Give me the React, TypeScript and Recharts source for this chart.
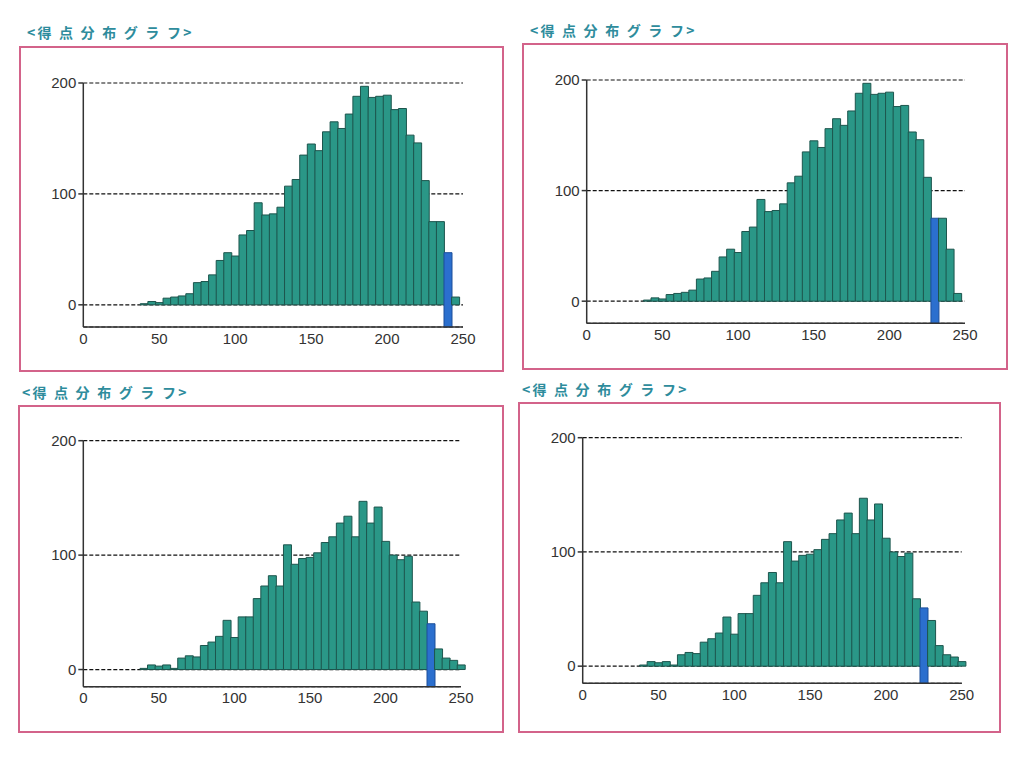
import { BarChart, Bar, XAxis, YAxis, CartesianGrid, Cell } from "recharts";

// score bins (bin centres, 5 points wide)
const binsTop = [
  40, 45, 50, 55, 60, 65, 70, 75, 80, 85, 90, 95, 100, 105, 110, 115, 120, 125, 130, 135, 140,
  145, 150, 155, 160, 165, 170, 175, 180, 185, 190, 195, 200, 205, 210, 215, 220, 225, 230, 235,
  240, 245,
];
const countsTop = [
  1, 3, 2, 6, 7, 8, 10, 20, 21, 27, 40, 47, 44, 63, 67, 92, 81, 82, 88, 107, 113, 135, 145, 139,
  156, 165, 159, 172, 188, 197, 187, 188, 189, 176, 177, 153, 146, 112, 75, 75, 47, 7,
];

const binsBottom = [
  40, 45, 50, 55, 60, 65, 70, 75, 80, 85, 90, 95, 100, 105, 110, 115, 120, 125, 130, 135, 140,
  145, 150, 155, 160, 165, 170, 175, 180, 185, 190, 195, 200, 205, 210, 215, 220, 225, 230, 235,
  240, 245, 250,
];
const countsBottom = [
  1, 4, 3, 4, 1, 10, 12, 11, 21, 24, 29, 43, 28, 46, 46, 62, 73, 82, 73, 109, 92, 97, 98, 102,
  111, 116, 128, 134, 116, 147, 128, 142, 112, 100, 96, 99, 59, 51, 40, 18, 10, 8, 4,
];

const xTicks = [0, 50, 100, 150, 200, 250];
const yTicks = [0, 100, 200];

const TITLE = "<得 点 分 布 グ ラ フ>";

const TEAL = "#2a9787";
const TEAL_EDGE = "#1d554d";
const BLUE = "#2b6fce";
const PINK = "#d3638a";

type Box = { l: number; t: number; r: number; b: number };

interface PanelProps {
  bins: number[];
  counts: number[];
  highlight: number;
  yMin: number;
  box: Box;
  plot: Box;
}

function Panel({ bins, counts, highlight, yMin, box, plot }: PanelProps) {
  const data = bins.map((score, i) => ({
    score,
    range: [score === highlight ? yMin : 0, counts[i]],
    hot: score === highlight,
  }));

  const w = box.r - box.l;
  const h = box.b - box.t;
  const yAxisW = 40;
  const xAxisH = 30;
  const margin = {
    top: plot.t - box.t,
    right: box.r - plot.r,
    left: plot.l - box.l - yAxisW,
    bottom: box.b - plot.b - xAxisH,
  };

  return (
    <>
      <div
        style={{
          position: "absolute",
          left: box.l - 1,
          top: box.t - 1,
          width: w + 2,
          height: h + 2,
          border: `2px solid ${PINK}`,
          boxSizing: "border-box",
        }}
      />
      <div style={{ position: "absolute", left: box.l, top: box.t }}>
        <BarChart width={w} height={h} data={data} margin={margin} barCategoryGap={0} barGap={0}>
          <CartesianGrid vertical={false} stroke="#111" strokeWidth={1.2} strokeDasharray="4 2" />
          <XAxis
            dataKey="score"
            type="number"
            domain={[0, 250]}
            ticks={xTicks}
            height={xAxisH}
            tickLine={false}
            tickSize={4}
            tickMargin={2}
            stroke="#333"
            strokeWidth={1.5}
            tick={{ fill: "#333", fontSize: 15, fontFamily: "Liberation Sans, Arial, sans-serif" }}
          />
          <YAxis
            type="number"
            domain={[yMin, 200]}
            ticks={yTicks}
            width={yAxisW}
            tickSize={5}
            tickMargin={2}
            stroke="#333"
            strokeWidth={1.5}
            tick={{ fill: "#333", fontSize: 15, fontFamily: "Liberation Sans, Arial, sans-serif" }}
          />
          <Bar dataKey="range" isAnimationActive={false} strokeWidth={1}>
            {data.map((d) => (
              <Cell
                key={d.score}
                fill={d.hot ? BLUE : TEAL}
                stroke={d.hot ? "#1d4f9a" : TEAL_EDGE}
              />
            ))}
          </Bar>
        </BarChart>
      </div>
    </>
  );
}

const titleStyle: React.CSSProperties = {
  position: "absolute",
  whiteSpace: "nowrap",
  color: "#2e8c9c",
  fontFamily: "Noto Sans CJK JP, sans-serif",
  fontWeight: 700,
  fontSize: 14,
  lineHeight: "15px",
  letterSpacing: 2.2,
};

export default function App() {
  return (
    <div style={{ position: "absolute", left: 0, top: 0, width: 1024, height: 757, background: "#fff" }}>
      <div style={{ ...titleStyle, left: 27, top: 25 }}>{TITLE}</div>
      <div style={{ ...titleStyle, left: 530, top: 23 }}>{TITLE}</div>
      <div style={{ ...titleStyle, left: 22, top: 385 }}>{TITLE}</div>
      <div style={{ ...titleStyle, left: 522, top: 382 }}>{TITLE}</div>

      <Panel
        bins={binsTop}
        counts={countsTop}
        highlight={240}
        yMin={-20}
        box={{ l: 20, t: 46.7, r: 503, b: 370.7 }}
        plot={{ l: 83.3, t: 82.7, r: 463, b: 326.7 }}
      />
      <Panel
        bins={binsTop}
        counts={countsTop}
        highlight={230}
        yMin={-20}
        box={{ l: 523, t: 44, r: 1006.7, b: 369 }}
        plot={{ l: 586.7, t: 80, r: 965, b: 323.3 }}
      />
      <Panel
        bins={binsBottom}
        counts={countsBottom}
        highlight={230}
        yMin={-15}
        box={{ l: 19, t: 406, r: 503, b: 731.7 }}
        plot={{ l: 83.3, t: 440.7, r: 461, b: 686.7 }}
      />
      <Panel
        bins={binsBottom}
        counts={countsBottom}
        highlight={225}
        yMin={-15}
        box={{ l: 519, t: 403, r: 1000, b: 732 }}
        plot={{ l: 582.7, t: 437.7, r: 961.7, b: 683.3 }}
      />
    </div>
  );
}
